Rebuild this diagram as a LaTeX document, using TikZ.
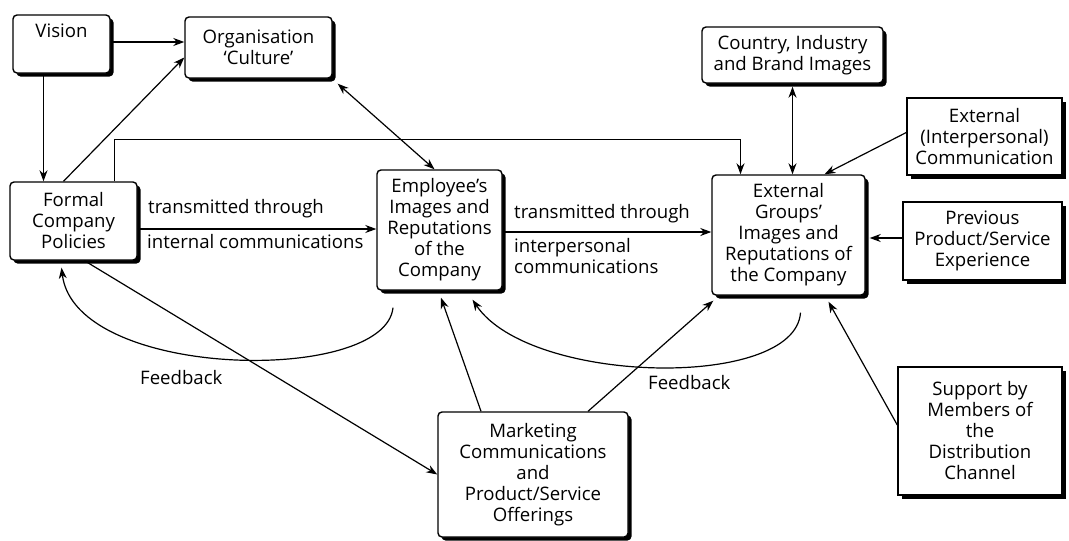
\documentclass[tikz,border=0pt]{standalone}
\usepackage{fontspec}
\setmainfont{Open Sans}
\usetikzlibrary{arrows.meta,shadows,calc}
\begin{document}
\begin{tikzpicture}[x=1pt,y=-1pt,
  every node/.style={font=\fontsize{18.6}{21}\selectfont, text=black},
  box/.style={draw=black, line width=1.4pt, fill=white, align=center, inner sep=2pt,
    drop shadow={shadow xshift=3.5pt, shadow yshift=-3.5pt, fill=black, opacity=1}},
  rbox/.style={box, rounded corners=4pt},
  sbox/.style={box},
  tip/.tip={Stealth[length=11pt,width=8pt,inset=3.5pt]},
  link/.style={line width=1.2pt, -tip},
  twoway/.style={line width=1.2pt, tip-tip},
  lbl/.style={inner sep=0pt}
]
\useasboundingbox (0,0) rectangle (1069,541);

% ---- boxes ----
\node[rbox, minimum width=97pt, minimum height=58pt] (vision) at (61.5,44) {};
\node[lbl, anchor=north] (visiontxt) at ([yshift=-9pt]vision.north) {Vision};
\node[rbox, minimum width=147pt, minimum height=61pt] (org) at (258.5,47.5) {Organisation\\‘Culture’};
\node[rbox, minimum width=127pt, minimum height=78pt] (formal) at (73.5,221) {Formal\\Company\\Policies};
\node[rbox, minimum width=125pt, minimum height=120pt] (emp) at (439.5,230) {Employee’s\\Images and\\Reputations\\of the\\Company};
\node[rbox, minimum width=181pt, minimum height=56pt] (country) at (792.5,55) {Country, Industry\\and Brand Images};
\node[sbox, minimum width=155pt, minimum height=77pt] (extint) at (984.5,136.5) {External\\(Interpersonal)\\Communication};
\node[rbox, minimum width=153pt, minimum height=120pt] (ext) at (788.5,235) {External\\Groups’\\Images and\\Reputations of\\the Company};
\node[sbox, minimum width=159pt, minimum height=78pt] (prev) at (982.5,241) {Previous\\Product/Service\\Experience};
\node[sbox, minimum width=164pt, minimum height=128pt] (support) at (980,431) {Support by\\Members of\\the\\Distribution\\Channel};
\node[rbox, minimum width=190pt, minimum height=125pt] (mkt) at (533,474.5) {Marketing\\Communications\\and\\Product/Service\\Offerings};

% ---- connector labels ----
\node[lbl, anchor=base west] (t1a) at (148,213) {transmitted through};
\node[lbl, anchor=base west] (t1b) at (147,248) {internal communications};
\node[lbl, anchor=base west] (t2a) at (514,218) {transmitted through};
\node[lbl, anchor=base west] (t2b) at (514,252) {interpersonal};
\node[lbl, anchor=base west] (t2c) at (514,273) {communications};
\node[lbl, anchor=base west] (fb1txt) at (140,384) {Feedback};
\node[lbl, anchor=base west] (fb2txt) at (648,389) {Feedback};

% ---- connectors ----
\draw[link] ([yshift=2pt]vision.east) -- ([yshift=2pt]vision.east -| org.west);
\draw[link] ([xshift=-18pt]vision.south) -- ([xshift=-18pt]vision.south |- formal.north);
\draw[link] ([xshift=-10pt]formal.north) -- ([yshift=-10pt]org.west);
\draw[link] ([xshift=41pt]formal.north) -- ++(0,-42) -| ([xshift=-48pt]ext.north);
\draw[twoway] ([shift={(5,5)}]org.south east) -- ([xshift=-5pt]emp.north);
\draw[link] ([yshift=-8pt]formal.east) -- ([yshift=-8pt]formal.east -| emp.west);
\draw[link] ([yshift=-2pt]emp.east) -- ([yshift=-2pt]emp.east -| ext.west);

% feedback loops
\coordinate (fb1) at ([shift={(-46.5,17)}]emp.south);
\draw[link] (fb1) .. controls (385,385) and (75,380) .. ([xshift=-12pt,yshift=-7pt]formal.south);
\coordinate (fb2) at ([shift={(12,17)}]ext.south);
\draw[link] (fb2) .. controls (795,390) and (530,385) .. ([xshift=33pt,yshift=-9pt]emp.south);

% marketing links
\draw[link] ([xshift=11pt]formal.south) -- (mkt.west);
\draw[link] ([xshift=-52pt]mkt.north) -- ([xshift=1.5pt,yshift=-7pt]emp.south);
\draw[link] ([xshift=55pt]mkt.north) -- ([shift={(2,5)}]ext.south west);

% external influences
\draw[link] ([yshift=6pt]support.west) -- ([xshift=40pt,yshift=-6pt]ext.south);
\draw[twoway, shorten <=3pt] (country.south) -- (country.south |- ext.north);
\draw[link] ([yshift=4pt]extint.west) -- ([xshift=36pt]ext.north);
\draw[link] ([yshift=3pt]prev.west) -- ([xshift=4pt,yshift=3pt]prev.west -| ext.east);
\end{tikzpicture}
\end{document}
